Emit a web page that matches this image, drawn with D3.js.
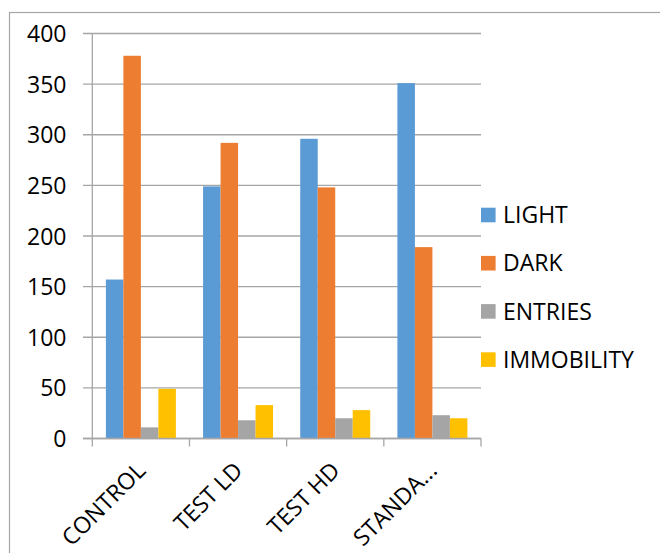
<!DOCTYPE html>
<html>
<head>
<meta charset="utf-8">
<script src="https://cdn.jsdelivr.net/npm/d3@7"></script>
<style>
  html, body { margin: 0; padding: 0; background: #fff; }
  svg { display: block; }
  text { font-family: "Open Sans", "Liberation Sans", sans-serif; fill: #000; }
</style>
</head>
<body>
<svg id="chart" width="660" height="553"></svg>
<script>
// Groups along the x axis (last label is shortened as displayed)
const categories = ["CONTROL", "TEST LD", "TEST HD", "STANDA..."];
const series = ["LIGHT", "DARK", "ENTRIES", "IMMOBILITY"];
const colors = ["#5b9bd5", "#ed7d31", "#a5a5a5", "#ffc000"];

// Values per series, one per category
const light = [157, 249, 296, 351];
const dark = [378, 292, 248, 189];
const entries = [11, 18, 20, 23];
const immobility = [49, 33, 28, 20];

const yTicks = [0, 50, 100, 150, 200, 250, 300, 350, 400];

const seriesValues = [light, dark, entries, immobility];

const svg = d3.select("#chart");
const gridColor = "#a6a6a6";

// Outer frame
svg.append("rect")
  .attr("x", 9.5).attr("y", 12.5)
  .attr("width", 700).attr("height", 600)
  .attr("fill", "none").attr("stroke", gridColor).attr("stroke-width", 1.2);

const x0 = d3.scaleBand().domain(categories).range([92.3, 481]).padding(0);
const x1 = d3.scaleBand().domain(series).range([0, x0.bandwidth()]).paddingInner(0).paddingOuter(0.777);
const y = d3.scaleLinear().domain([0, 400]).range([438.5, 33.5]);

// Horizontal gridlines with left tick stubs
svg.append("g").selectAll("line")
  .data(yTicks)
  .join("line")
  .attr("x1", 83).attr("x2", 481)
  .attr("y1", d => y(d)).attr("y2", d => y(d))
  .attr("stroke", gridColor).attr("stroke-width", 1.3);

// Vertical axis line
svg.append("line")
  .attr("x1", x0.range()[0]).attr("x2", x0.range()[0])
  .attr("y1", y(400)).attr("y2", y(0))
  .attr("stroke", gridColor).attr("stroke-width", 1.3);

// Category boundary ticks below the baseline
const boundaries = categories.map(c => x0(c)).concat([x0.range()[1]]);
svg.append("g").selectAll("line")
  .data(boundaries)
  .join("line")
  .attr("x1", d => d).attr("x2", d => d)
  .attr("y1", y(0)).attr("y2", y(0) + 8)
  .attr("stroke", gridColor).attr("stroke-width", 1.3);

// Bars
const groups = svg.append("g").selectAll("g")
  .data(series)
  .join("g")
  .attr("fill", (s, i) => colors[i]);

groups.selectAll("rect")
  .data((s, i) => categories.map((c, j) => ({ c, s, v: seriesValues[i][j] })))
  .join("rect")
  .attr("x", d => x0(d.c) + x1(d.s))
  .attr("width", x1.bandwidth())
  .attr("y", d => y(d.v))
  .attr("height", d => y(0) - y(d.v));

// Redraw baseline over bars
svg.append("line")
  .attr("x1", 83).attr("x2", 481)
  .attr("y1", y(0)).attr("y2", y(0))
  .attr("stroke", gridColor).attr("stroke-width", 1.3);

// Y tick labels
const yAxis = d3.axisLeft(y).tickValues(yTicks).tickSize(0).tickPadding(0);
const yg = svg.append("g").attr("transform", "translate(66.5,0)").call(yAxis);
yg.select(".domain").remove();
yg.selectAll("text")
  .attr("font-size", 23)
  .attr("font-family", "'Open Sans', 'Liberation Sans', sans-serif")
  .attr("fill", "#000")
  .attr("dy", "0.35em");

// Rotated category labels
svg.append("g").selectAll("text")
  .data(categories)
  .join("text")
  .attr("transform", c => `translate(${x0(c) + x0.bandwidth() / 2 + 6},${472}) rotate(-45)`)
  .attr("text-anchor", "end")
  .attr("font-size", 23)
  .text(c => c);

// Legend
const legend = svg.append("g").selectAll("g")
  .data(series)
  .join("g")
  .attr("transform", (s, i) => `translate(481,${215 + i * 48.2})`);

legend.append("rect")
  .attr("x", 0).attr("y", -7.3)
  .attr("width", 14.6).attr("height", 14.6)
  .attr("fill", (s, i) => colors[i]);

legend.append("text")
  .attr("x", 22).attr("y", 0)
  .attr("dy", "0.36em")
  .attr("font-size", 23)
  .text(s => s);
</script>
</body>
</html>
